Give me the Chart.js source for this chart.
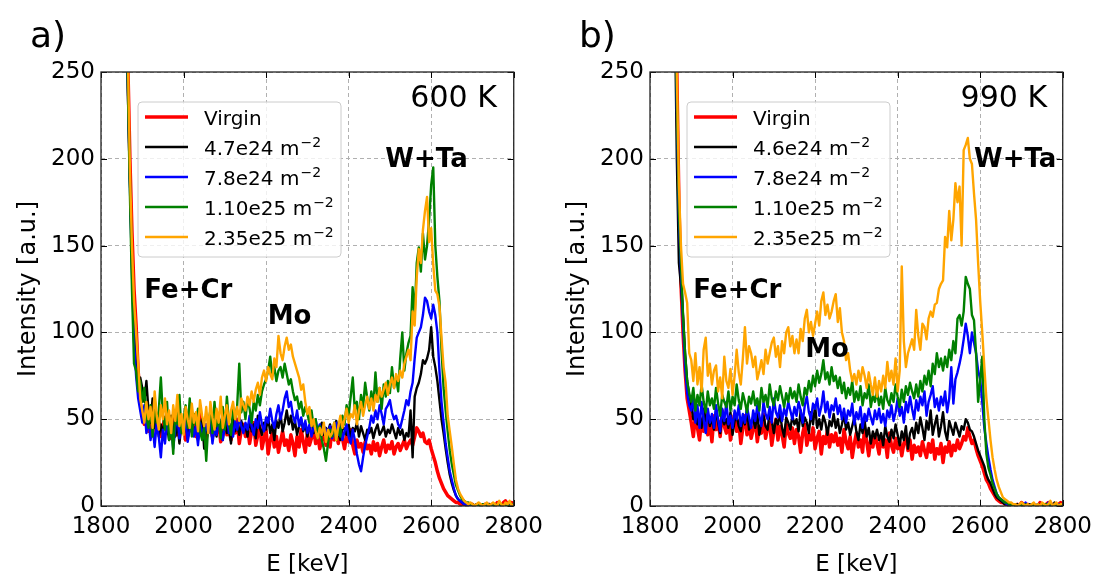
<!DOCTYPE html>
<html>
<head>
<meta charset="utf-8">
<script src="https://cdn.jsdelivr.net/npm/chart.js@4.4.0/dist/chart.umd.min.js"></script>
<style>
  html, body { margin: 0; padding: 0; background: #fff; width: 1101px; height: 579px; overflow: hidden; }
  canvas { position: absolute; top: 0; }
  #chartA { left: 0; }
  #chartB { left: 549px; }
</style>
</head>
<body>
<canvas id="chartA" width="550" height="579"></canvas>
<canvas id="chartB" width="550" height="579"></canvas>
<script>
// energy channels: 1850..2800 keV, 5 keV apart
const energy = Array.from({ length: 191 }, (_, i) => 1850 + 5 * i);

const xTicks = [1800, 2000, 2200, 2400, 2600, 2800];
const yTicks = [0, 50, 100, 150, 200, 250];

const labels600 = ['Virgin', '4.7e24 m⁻²', '7.8e24 m⁻²', '1.10e25 m⁻²', '2.35e25 m⁻²'];
const labels990 = ['Virgin', '4.6e24 m⁻²', '7.8e24 m⁻²', '1.10e25 m⁻²', '2.35e25 m⁻²'];
const seriesColors = ['#ff0000', '#000000', '#0000ff', '#008000', '#ffa500'];

// ---- 600 K ----
const red600 = [
  460,390,310,255,200,158,125,104,78,60,52,47,54,43,49,41,52,44,48,40,
  46,51,42,48,39,45,53,41,47,44,50,38,46,52,43,48,40,45,55,42,
  47,39,44,51,40,46,42,49,37,45,53,41,44,38,48,42,50,36,44,47,
  40,45,36,43,48,35,41,46,33,39,44,30,38,42,34,40,31,37,43,35,
  38,32,41,36,29,40,34,44,37,31,42,35,39,45,36,41,33,38,43,35,
  40,34,45,38,42,36,47,39,33,41,37,44,35,30,38,34,36,31,37,33,
  35,30,37,32,36,29,34,38,31,35,33,37,30,34,36,32,35,38,33,36,
  38,35,40,45,43,40,42,37,36,38,33,29,25,20,16,13,10,8,6,5,
  4,3,2,2,1,1,0,1,0,0,1,0,0,1,0,0,1,0,1,0,
  1,0,2,1,0,2,3,1,0,2,1];
const black600 = [
  455,385,300,245,190,140,100,80,70,74,68,60,72,55,48,62,45,52,40,47,
  42,50,46,38,52,44,40,48,36,47,43,51,39,45,49,41,46,38,44,50,
  33,47,42,49,38,46,40,52,44,38,48,42,45,36,50,43,47,41,49,44,
  46,40,50,43,47,39,52,45,41,48,44,51,42,47,38,49,45,53,43,48,
  55,47,52,44,49,41,46,50,43,47,40,45,49,42,46,39,44,48,41,45,
  43,47,40,45,49,42,38,46,44,41,47,39,45,43,48,40,46,42,38,44,
  42,45,39,44,47,41,43,46,40,44,42,47,43,39,45,41,44,38,42,40,
  55,28,63,68,71,76,84,82,85,90,103,86,80,72,61,50,42,33,25,18,
  13,9,6,4,3,2,1,1,0,1,0,0,1,0,0,1,0,0,0,1,
  0,1,0,0,1,0,0,1,0,0,0];
const blue600 = [
  450,380,295,240,185,135,95,75,62,55,48,58,42,50,38,46,34,48,40,28,
  44,36,50,41,47,33,45,52,39,46,42,49,37,44,51,40,46,35,48,43,
  39,47,42,50,36,45,41,48,44,38,46,53,42,47,40,49,44,51,46,42,
  48,44,52,46,41,50,45,54,47,43,51,48,56,49,45,53,58,50,55,62,
  66,57,60,52,48,55,46,51,44,49,42,47,40,45,50,43,47,41,46,44,
  42,46,39,44,48,41,45,38,43,47,40,36,44,38,30,24,20,28,35,40,
  45,52,48,55,50,58,53,47,56,58,61,54,50,52,47,45,50,55,61,58,
  66,71,85,97,100,103,110,120,118,112,108,116,110,100,78,60,48,36,28,20,
  15,10,6,4,3,2,1,1,0,1,0,0,1,0,0,0,1,0,0,0,
  1,0,0,1,0,0,0,1,0,0,0];
const green600 = [
  455,385,300,240,180,125,82,78,66,72,60,68,52,45,58,40,62,48,55,74,
  52,44,60,38,48,30,55,47,64,42,50,58,45,62,40,53,47,56,43,38,
  45,26,48,55,42,60,46,52,39,57,44,63,48,41,56,50,58,82,54,60,
  50,62,56,48,60,55,64,58,66,70,73,78,86,75,80,72,78,80,74,82,
  76,70,73,66,61,63,56,60,52,57,53,48,55,46,50,42,46,38,33,26,
  36,44,40,48,38,45,40,52,47,58,52,63,74,55,60,50,64,57,71,62,
  55,66,58,77,60,68,56,70,63,72,65,80,68,74,66,85,100,78,88,94,
  98,126,110,140,149,135,157,142,150,165,185,195,150,132,118,90,68,55,43,32,
  24,18,12,9,6,4,3,2,2,1,1,0,1,0,0,1,0,0,1,0,
  0,1,0,0,1,0,1,0,0,1,0];
const orange600 = [
  465,395,315,260,195,150,118,100,82,62,55,48,60,50,57,45,66,52,44,58,
  50,62,47,55,42,58,49,64,46,53,41,57,50,45,59,48,54,43,61,52,
  46,57,42,60,51,44,56,48,63,45,52,58,47,55,60,50,57,49,62,58,
  55,63,58,66,60,67,71,64,74,78,72,80,76,73,85,80,98,88,84,92,
  97,90,93,86,82,78,74,67,70,60,53,57,46,50,43,39,45,41,48,37,
  44,40,42,48,38,46,52,45,50,56,48,53,51,58,47,55,60,52,58,63,
  56,62,55,64,60,68,63,67,71,64,70,74,68,76,72,78,74,82,86,90,
  84,112,104,132,148,140,159,170,178,152,160,139,124,122,115,97,80,71,52,43,
  34,24,15,10,7,5,3,2,1,2,1,0,1,2,1,0,1,2,0,1,
  2,1,0,3,1,0,2,1,3,0,1];

// ---- 990 K ----
const red990 = [
  470,400,320,250,175,128,100,78,62,55,48,40,52,45,38,50,43,55,41,48,
  37,52,44,49,40,55,46,42,51,38,47,53,43,49,36,45,52,41,47,39,
  44,50,37,46,42,53,39,45,48,35,43,50,38,46,41,34,47,42,39,45,
  36,44,40,31,42,47,35,41,38,45,33,39,43,30,40,36,44,34,41,37,
  42,35,39,31,44,37,33,40,28,36,42,34,38,31,45,37,29,39,34,41,
  36,30,40,34,38,28,42,35,31,39,33,37,29,36,40,32,38,27,35,31,
  34,29,37,32,28,36,31,38,27,33,30,36,25,34,31,37,29,35,32,38,
  33,36,40,38,45,40,36,38,33,29,26,23,19,15,13,10,8,6,4,3,
  2,2,1,1,0,1,0,0,1,0,2,1,0,1,0,0,1,0,0,2,
  1,0,1,2,0,1,0,0,1,2,1];
const black990 = [
  460,380,290,200,140,127,110,88,72,64,58,50,55,47,52,45,56,49,53,46,
  51,44,55,48,42,53,47,50,45,54,41,49,52,46,43,51,47,55,44,48,
  50,45,53,41,48,52,46,44,55,49,42,50,47,53,45,40,51,48,44,52,
  47,50,43,55,46,51,48,42,54,47,58,45,50,44,52,48,41,49,46,53,
  45,50,42,47,53,44,48,41,46,51,43,38,47,42,49,40,45,36,43,39,
  44,38,42,35,46,40,37,44,39,47,41,35,43,38,46,33,42,45,39,48,
  42,51,45,38,49,44,55,41,47,52,40,46,54,43,38,49,45,41,48,44,
  40,46,44,50,48,44,43,40,36,32,29,26,23,18,15,13,10,7,5,4,
  3,2,1,1,0,1,0,0,1,0,0,1,0,0,1,0,0,0,1,0,
  0,1,0,0,1,0,2,0,0,1,0];
const blue990 = [
  470,395,305,230,165,135,105,80,65,58,55,62,48,58,45,60,50,42,56,48,
  53,45,58,50,43,56,49,60,47,52,45,55,50,58,46,53,48,57,51,45,
  55,49,58,52,46,60,53,50,57,48,62,54,51,58,49,56,52,60,55,50,
  57,52,60,55,48,58,63,54,50,59,56,62,52,57,66,54,60,51,58,55,
  62,53,58,50,56,48,55,52,59,47,54,50,57,45,53,49,56,51,47,55,
  50,56,48,53,46,55,51,58,49,54,62,52,57,48,60,54,63,56,50,61,
  55,63,58,66,52,60,64,69,57,62,55,63,58,66,54,62,80,59,73,77,
  82,88,96,105,98,88,100,94,88,78,73,60,45,36,28,21,15,11,7,5,
  4,3,2,1,1,0,1,0,0,1,0,0,2,0,0,1,0,0,1,0,
  1,0,0,2,0,1,0,0,1,0,0];
const green990 = [
  468,392,310,235,170,140,110,88,72,65,60,68,55,64,58,70,60,54,66,58,
  62,56,68,59,52,64,60,57,66,55,63,58,70,61,56,65,60,54,63,59,
  66,58,62,55,68,60,64,57,70,62,58,66,61,69,63,57,65,60,68,62,
  66,60,70,63,58,68,64,72,66,75,69,78,71,76,84,73,77,70,80,72,
  75,68,74,65,71,62,68,64,72,60,66,61,69,58,65,62,70,57,64,60,
  66,58,63,56,68,61,58,65,60,70,63,57,67,60,69,64,71,66,62,70,
  63,72,66,75,70,78,69,82,76,88,80,85,78,86,80,90,84,95,88,108,
  110,104,112,132,128,125,110,107,88,60,72,86,50,30,22,18,13,10,7,5,
  4,3,2,2,1,1,0,1,0,0,1,0,1,0,0,1,0,0,1,0,
  0,1,1,0,2,0,1,0,0,1,0];
const orange990 = [
  475,400,320,250,185,150,128,123,117,88,84,72,88,70,80,66,90,97,75,82,
  70,78,81,66,74,62,86,72,68,79,64,75,90,77,70,85,103,82,92,88,
  80,86,73,78,84,76,90,82,88,94,97,86,92,80,95,88,100,103,92,98,
  88,96,88,102,95,108,113,100,106,98,105,112,104,118,123,110,116,108,112,118,
  122,106,114,100,95,84,88,78,72,76,70,78,72,80,75,68,77,70,64,74,
  63,72,66,75,68,83,72,78,70,85,66,78,138,95,80,88,92,96,90,113,
  98,90,105,103,96,108,112,109,116,117,125,128,130,155,149,170,153,165,186,175,
  184,150,205,208,212,200,197,180,165,140,118,100,80,62,50,38,28,21,15,11,
  8,5,4,3,2,2,1,1,0,1,2,1,0,1,0,1,2,0,1,0,
  2,1,0,1,3,0,1,2,0,1,1];

const FONT = '"DejaVu Sans", sans-serif';

function drawLabel(ctx, text, x, y, size) {
  const sup = '⁻²';
  ctx.font = size + 'px ' + FONT;
  if (text.endsWith(sup)) {
    const base = text.slice(0, -sup.length);
    ctx.fillText(base, x, y);
    const w = ctx.measureText(base).width;
    ctx.font = Math.round(size * 0.7) + 'px ' + FONT;
    ctx.fillText('\u22122', x + w + 1, y - size * 0.42);
  } else {
    ctx.fillText(text, x, y);
  }
}

// legend box, annotations, frame and inward ticks (matplotlib look)
const panelDecor = {
  id: 'panelDecor',
  afterDatasetsDraw(chart, args, opts) {
    const { ctx, chartArea: a, scales: { x, y } } = chart;
    ctx.save();
    ctx.textBaseline = 'alphabetic';
    const bx = a.left + 37, by = a.top + 30, bw = 203, bh = 155;
    ctx.beginPath();
    ctx.roundRect(bx, by, bw, bh, 4);
    ctx.fillStyle = 'rgba(255,255,255,0.8)';
    ctx.fill();
    ctx.strokeStyle = '#cccccc';
    ctx.lineWidth = 1;
    ctx.stroke();
    chart.data.datasets.forEach((ds, i) => {
      const cy = by + 15 + i * 30;
      ctx.strokeStyle = ds.borderColor;
      ctx.lineWidth = ds.borderWidth;
      ctx.beginPath();
      ctx.moveTo(bx + 7, cy);
      ctx.lineTo(bx + 50, cy);
      ctx.stroke();
      ctx.fillStyle = '#000';
      ctx.textAlign = 'left';
      drawLabel(ctx, ds.label, bx + 66, cy + 8, 20);
    });
    ctx.fillStyle = '#000';
    opts.notes.forEach(n => {
      ctx.font = (n.bold ? 'bold ' : '') + n.size + 'px ' + FONT;
      ctx.textAlign = n.align || 'left';
      ctx.fillText(n.text, x.getPixelForValue(n.e), y.getPixelForValue(n.v));
    });
    ctx.textAlign = 'left';
    ctx.font = '36px ' + FONT;
    ctx.fillText(opts.letter, a.left - 71, a.top - 25);
    ctx.restore();
  },
  afterDraw(chart) {
    const { ctx, chartArea: a, scales: { x, y } } = chart;
    ctx.save();
    ctx.strokeStyle = '#000';
    ctx.lineWidth = 1;
    ctx.beginPath();
    x.ticks.forEach(t => {
      const px = Math.round(x.getPixelForValue(t.value)) + 0.5;
      ctx.moveTo(px, a.bottom); ctx.lineTo(px, a.bottom - 6);
      ctx.moveTo(px, a.top); ctx.lineTo(px, a.top + 6);
    });
    y.ticks.forEach(t => {
      const py = Math.round(y.getPixelForValue(t.value)) + 0.5;
      ctx.moveTo(a.left, py); ctx.lineTo(a.left + 6, py);
      ctx.moveTo(a.right, py); ctx.lineTo(a.right - 6, py);
    });
    ctx.stroke();
    ctx.strokeStyle = '#222';
    ctx.lineWidth = 1.3;
    ctx.strokeRect(a.left, a.top, a.right - a.left, a.bottom - a.top);
    ctx.restore();
  }
};

function makeChart(id, series, labels, decor) {
  return new Chart(document.getElementById(id), {
    type: 'line',
    data: {
      datasets: series.map((vals, i) => ({
        label: labels[i],
        data: vals.map((v, j) => ({ x: energy[j], y: v })),
        borderColor: seriesColors[i],
        borderWidth: i === 0 ? 3.5 : 2.4,
        borderJoinStyle: 'round',
        pointRadius: 0,
        tension: 0,
        order: series.length - i
      }))
    },
    options: {
      responsive: false,
      animation: false,
      layout: { padding: { top: 72, right: 31, bottom: 0, left: 0 } },
      plugins: {
        legend: { display: false },
        tooltip: { enabled: false },
        panelDecor: decor
      },
      scales: {
        x: {
          type: 'linear', min: xTicks[0], max: xTicks[xTicks.length - 1],
          afterBuildTicks: s => { s.ticks = xTicks.map(v => ({ value: v })); },
          afterFit: s => { s.height = 73; },
          ticks: { color: '#000', font: { family: FONT, size: 23 }, padding: 7, maxRotation: 0, autoSkip: false, callback: v => String(v) },
          grid: { color: '#b0b0b0', lineWidth: 1, drawTicks: false },
          border: { display: false, dash: [4, 3] },
          title: { display: true, text: 'E [keV]', color: '#000', font: { family: FONT, size: 23 }, padding: { top: 4, bottom: 0 } }
        },
        y: {
          min: yTicks[0], max: yTicks[yTicks.length - 1],
          afterBuildTicks: s => { s.ticks = yTicks.map(v => ({ value: v })); },
          afterFit: s => { s.width = 101; },
          ticks: { color: '#000', font: { family: FONT, size: 23 }, padding: 6, callback: v => String(v) },
          grid: { color: '#b0b0b0', lineWidth: 1, drawTicks: false },
          border: { display: false, dash: [4, 3] },
          title: { display: true, text: 'Intensity [a.u.]', color: '#000', font: { family: FONT, size: 24 }, padding: { top: 14, bottom: 0 } }
        }
      }
    },
    plugins: [panelDecor]
  });
}

makeChart('chartA', [red600, black600, blue600, green600, orange600], labels600, {
  letter: 'a)',
  notes: [
    { text: '600 K', e: 2759, v: 230, size: 30, align: 'right' },
    { text: 'W+Ta', e: 2489, v: 195, size: 26, bold: true },
    { text: 'Fe+Cr', e: 1905, v: 120, size: 26, bold: true },
    { text: 'Mo', e: 2204, v: 105, size: 26, bold: true }
  ]
});

makeChart('chartB', [red990, black990, blue990, green990, orange990], labels990, {
  letter: 'b)',
  notes: [
    { text: '990 K', e: 2762, v: 230, size: 30, align: 'right' },
    { text: 'W+Ta', e: 2585, v: 195, size: 26, bold: true },
    { text: 'Fe+Cr', e: 1905, v: 120, size: 26, bold: true },
    { text: 'Mo', e: 2176, v: 86, size: 26, bold: true }
  ]
});
</script>
</body>
</html>
